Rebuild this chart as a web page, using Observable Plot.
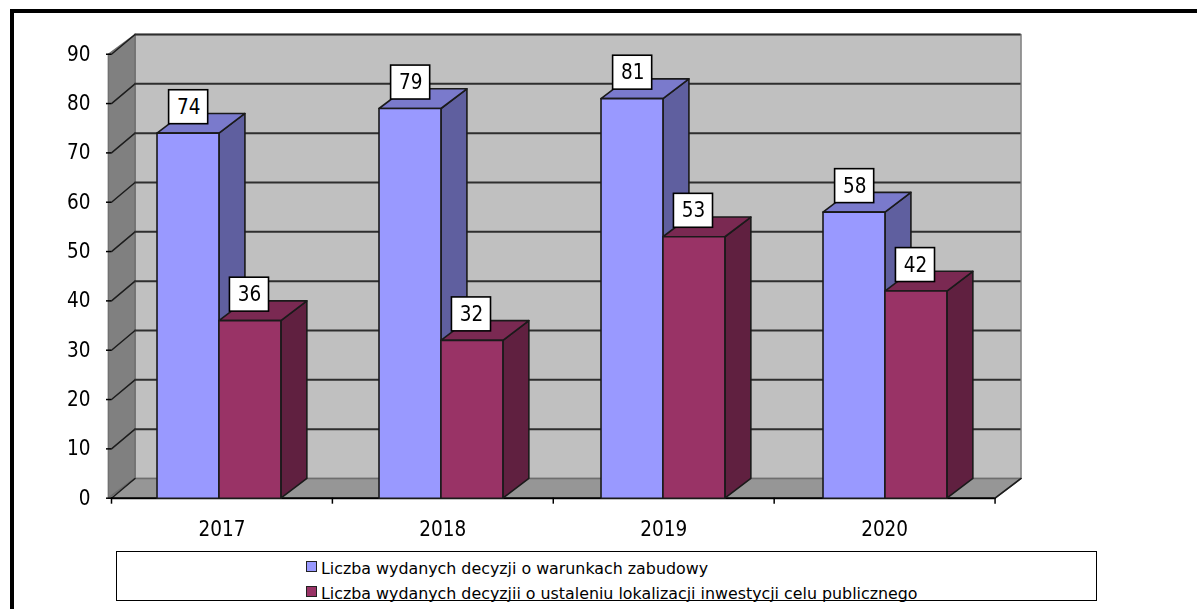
<!DOCTYPE html>
<html lang="pl">
<head>
<meta charset="utf-8">
<script src="https://cdn.jsdelivr.net/npm/d3@7"></script>
<script src="https://cdn.jsdelivr.net/npm/@observablehq/plot@0.6"></script>
<style>
  html, body { margin: 0; padding: 0; background: #fff; overflow: hidden; }
  #page { position: relative; width: 1197px; height: 609px; overflow: hidden; font-family: "DejaVu Sans", sans-serif; color: #000; }
  #frame { position: absolute; left: 10px; top: 9px; width: 1187px; height: 600px; border-left: 4px solid #000; border-top: 4px solid #000; box-sizing: border-box; }
  #chart { position: absolute; left: 0; top: 0; }
  #chart svg { filter: blur(0.3px); }
  #legend { position: absolute; left: 116px; top: 551px; width: 981px; height: 50px; border: 1.5px solid #000; box-sizing: border-box; }
  .row { position: absolute; left: 189px; white-space: nowrap; font-size: 15.85px; line-height: 18px; }
  .row i { display: inline-block; width: 9px; height: 9px; border: 1.5px solid #222; margin-right: 4px; vertical-align: 2px; }
</style>
</head>
<body>
<div id="page">
  <div id="frame"></div>
  <div id="chart"></div>
  <div id="legend"></div>
</div>
<script>
const years = ["2017", "2018", "2019", "2020"];
const seriesNames = [
  "Liczba wydanych decyzji o warunkach zabudowy",
  "Liczba wydanych decyzjii o ustaleniu lokalizacji inwestycji celu publicznego"
];
const warunki = [74, 79, 81, 58];
const lokalizacje = [36, 32, 53, 42];
const yTicks = [0, 10, 20, 30, 40, 50, 60, 70, 80, 90];
const blue = { front: "#9999ff", top: "#7a7acc", side: "#5f5f9f" };
const wine = { front: "#993366", top: "#7a2952", side: "#602040" };

// chart-space proportions (x: one unit per year, y: value units)
const step = 0.995, barW = 0.279, seam = 0.484, depthX = 0.117, depthY = 4;
const end = 4 * step, wallL = 0.106, edgeL = -0.014;
const polygons = [];
let gid = 0;
const face = (fill, stroke, pts) => { gid++; pts.forEach(([x, y]) => polygons.push({ id: gid, x, y, fill, stroke })); };
function bar(x0, x1, v, c) {
  face(c.side, "#1a1a1a", [[x1, 0], [x1 + depthX, depthY], [x1 + depthX, v + depthY], [x1, v]]);
  face(c.top, "#1a1a1a", [[x0, v], [x0 + depthX, v + depthY], [x1 + depthX, v + depthY], [x1, v]]);
  face(c.front, "#1a1a1a", [[x0, 0], [x0, v], [x1, v], [x1, 0]]);
}
const labels = [];
years.forEach((yr, i) => {
  const s = i + seam;
  bar(s - barW, s, warunki[i], blue);
  bar(s, s + barW, lokalizacje[i], wine);
  labels.push({ x: s - barW / 2 + 0.003, v: warunki[i] }, { x: s + barW / 2 - 0.002, v: lokalizacje[i] });
});

const walls = [];
const wall = (id, fill, stroke, pts) => pts.forEach(([x, y]) => walls.push({ id, x, y, fill, stroke }));
wall("back", "#c0c0c0", "#808080", [[wallL, depthY], [wallL, 90 + depthY], [end + depthX, 90 + depthY], [end + depthX, depthY]]);
wall("left", "#808080", "#707070", [[edgeL, 0], [edgeL, 90], [wallL, 90 + depthY], [wallL, depthY]]);
wall("floor", "#969696", "#6e6e6e", [[edgeL, 0], [end, 0], [end + depthX, depthY], [wallL, depthY]]);

const grid = yTicks.slice(1).map(v => ({ v: v + depthY }));
const diag = yTicks.flatMap(v => [{ id: v, x: 0, y: v }, { id: v, x: wallL, y: v + depthY }]);
const boxH = [1.82, 8.7], boxW = 0.088;
const fontCss = { fontFamily: "DejaVu Sans", fontStretch: "condensed" };

const plot = Plot.plot({
  width: 1197, height: 545,
  marginLeft: 111, marginRight: 198, marginTop: 34, marginBottom: 47.3,
  x: { domain: [0, 4], axis: null },
  y: { domain: [0, 94], axis: null },
  color: { type: "identity" },
  style: { background: "transparent", ...fontCss, fontSize: "20.5px", color: "#000", overflow: "visible" },
  marks: [
    Plot.line(walls, { x: "x", y: "y", z: "id", fill: "fill", stroke: "stroke", strokeWidth: 1.5, curve: "linear-closed" }),
    Plot.line(diag, { x: "x", y: "y", z: "id", stroke: "#1c1c1c", strokeWidth: 1.5 }),
    Plot.ruleY(grid, { y: "v", x1: wallL, x2: end + depthX, stroke: "#2e2e2e", strokeWidth: 2 }),
    Plot.line([{ x: end, y: 0 }, { x: end + depthX, y: depthY }], { x: "x", y: "y", stroke: "#1c1c1c", strokeWidth: 1.5 }),
    Plot.ruleY([0], { x1: 0, x2: end, stroke: "#000", strokeWidth: 2 }),
    Plot.line(polygons, { x: "x", y: "y", z: "id", fill: "fill", stroke: "stroke", strokeWidth: 1.6, curve: "linear-closed" }),
    Plot.rect(labels, { x1: d => d.x - boxW, x2: d => d.x + boxW, y1: d => d.v + boxH[0], y2: d => d.v + boxH[1], fill: "#fff", stroke: "#000", strokeWidth: 1.6, inset: 0 }),
    Plot.text(labels, { x: "x", y: d => d.v + (boxH[0] + boxH[1]) / 2, text: d => String(d.v), fontSize: 20.5, fill: "#000", ...fontCss }),
    Plot.axisY({ ticks: yTicks, tickSize: 5, tickPadding: 16, label: null, fontSize: 20.5, stroke: "#000", strokeWidth: 1.5 }),
    Plot.axisX({ anchor: "bottom", ticks: d3.range(5).map(i => i * step), tickSize: 6, tickFormat: () => "", label: null, strokeWidth: 1.5 }),
    Plot.axisX({ anchor: "bottom", ticks: years.map((y, i) => (i + 0.5) * step), tickSize: 0, tickPadding: 23, tickFormat: (d, i) => years[i], label: null, fontSize: 20.5 })
  ]
});
document.getElementById("chart").appendChild(plot);

const legend = document.getElementById("legend");
[[blue.front, seriesNames[0], 8], [wine.front, seriesNames[1], 32.5]].forEach(([c, t, top]) => {
  const r = document.createElement("div");
  r.className = "row";
  r.style.top = top + "px";
  const k = document.createElement("i");
  k.style.background = c;
  r.appendChild(k);
  r.appendChild(document.createTextNode(t));
  legend.appendChild(r);
});
</script>
</body>
</html>
